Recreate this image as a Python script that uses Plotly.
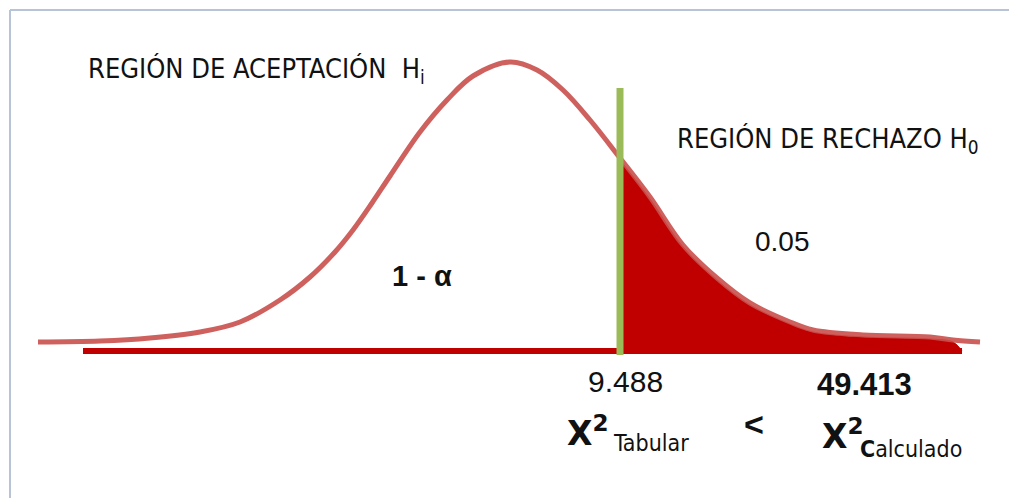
import plotly.graph_objects as go

# Bell curve outline (x position, height above the baseline)
curve_x = [38, 100, 150, 200, 240, 280, 310, 335, 353, 372, 390, 420, 447, 473, 510,
           537, 563, 590, 620, 650, 683, 717, 750, 790, 813, 863, 930, 953, 980]
curve_h = [9, 10, 13, 19, 29, 51, 74, 99, 121, 148, 175, 219, 251, 275, 289,
           281, 261, 231, 193, 154, 106, 73, 48, 29, 21, 16, 14, 11, 9]

# Rejection region (shaded right tail), filled down to the baseline
tail_x = [620, 650, 683, 717, 750, 790, 813, 863, 930, 953, 962]
tail_h = [191, 152, 104, 71, 46, 27, 19, 14, 12, 9, 0]

# Horizontal baseline and critical value line
base_x = [83, 962]
base_h = [0, 0]
crit_x = [620, 620]
crit_h = [263, -4]

# Labels
lbl_accept = "REGIÓN DE ACEPTACIÓN  H<sub>i</sub>"
lbl_reject = "REGIÓN DE RECHAZO H<sub>0</sub>"
lbl_alpha = "0.05"
lbl_conf = "<b>1 - α</b>"
lbl_tab_val = "9.488"
lbl_calc_val = "<b>49.413</b>"
lbl_chi = "<b>X<sup>2</sup></b>"
lbl_tab = "Tabular"
lbl_calc = "<b>C</b>alculado"
lbl_lt = "<b><</b>"

RED_CURVE = "#c9504c"
RED_FILL = "#c00000"
GREEN = "#9bbb59"
BORDER = "#b7c3d6"
COND = "DejaVu Sans Condensed, Liberation Sans, sans-serif"
SANS = "Liberation Sans, Arial, sans-serif"
DEJA = "DejaVu Sans, Liberation Sans, sans-serif"

fig = go.Figure()
fig.add_trace(go.Scatter(x=base_x, y=base_h, mode="lines",
                         line=dict(color=RED_FILL, width=6), hoverinfo="skip"))
fig.add_trace(go.Scatter(x=tail_x, y=tail_h, mode="lines", fill="tozeroy",
                         fillcolor=RED_FILL, line=dict(color=RED_FILL, width=1, shape="spline"),
                         hoverinfo="skip"))
fig.add_trace(go.Scatter(x=curve_x, y=curve_h, mode="lines",
                         line=dict(color=RED_CURVE, width=5, shape="spline", smoothing=1.0),
                         opacity=0.9, hoverinfo="skip"))
fig.add_trace(go.Scatter(x=crit_x, y=crit_h, mode="lines",
                         line=dict(color=GREEN, width=7), hoverinfo="skip"))

def ann(text, x, y, size, family=COND, color="#111111"):
    fig.add_annotation(text=text, x=x, y=y, xref="x", yref="y", xanchor="left",
                       yanchor="middle", showarrow=False,
                       font=dict(size=size, family=family, color=color))

ann(lbl_accept, 86, 281, 27)
ann(lbl_reject, 675, 211, 27)
ann(lbl_alpha, 753, 110, 28, SANS)
ann(lbl_conf, 390, 75, 29, SANS)
ann(lbl_tab_val, 586, -30, 30, SANS)
ann(lbl_calc_val, 815, -33, 31, SANS)
ann(lbl_chi, 565, -80, 33, DEJA)
ann(lbl_tab, 611, -92, 23)
ann(lbl_lt, 742, -73, 34, SANS)
ann(lbl_chi, 820, -83, 33, DEJA)
ann(lbl_calc, 858, -98, 23)

# Frame lines at the top and left edges
fig.add_shape(type="line", x0=10, x1=1030, y0=341, y1=341, xref="x", yref="y",
              line=dict(color=BORDER, width=2))
fig.add_shape(type="line", x0=10, x1=10, y0=341, y1=-160, xref="x", yref="y",
              line=dict(color=BORDER, width=2))

# the page body adds an 8px offset, so the ranges start 8px further on
fig.update_layout(width=1017, height=498, margin=dict(l=0, r=0, t=0, b=0),
                  paper_bgcolor="white", plot_bgcolor="white", showlegend=False)
fig.update_xaxes(range=[8, 1025], visible=False, fixedrange=True)
fig.update_yaxes(range=[-155, 343], visible=False, fixedrange=True)

fig.write_html("out.html")
